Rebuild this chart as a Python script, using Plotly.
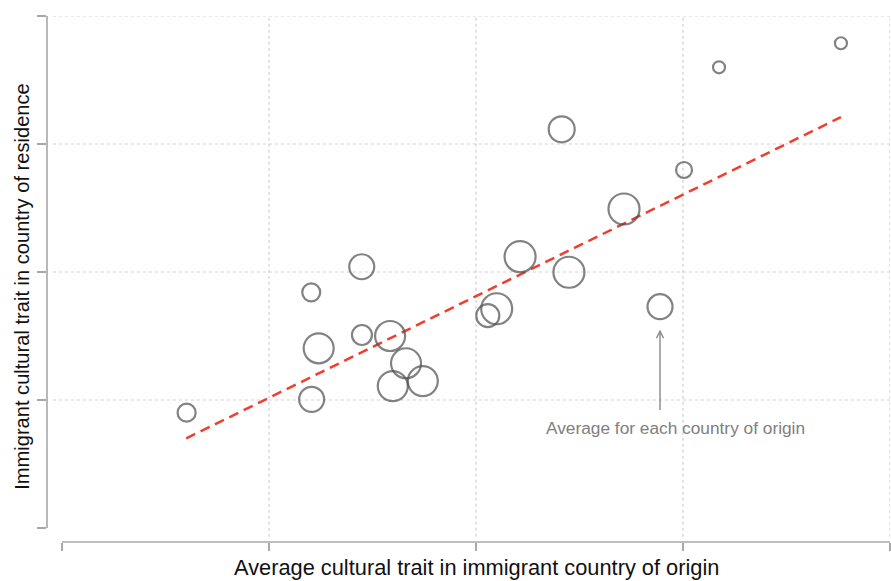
import plotly.graph_objects as go

# Country-of-origin averages (arbitrary trait units)
origin_trait = [0.602, 1.204, 1.448, 1.240, 1.206, 1.449, 1.585, 1.662, 1.598, 1.743,
                2.057, 2.100, 2.213, 2.449, 2.414, 2.715, 2.889, 3.005, 3.174, 3.763]
residence_trait = [0.901, 1.841, 2.041, 1.404, 1.005, 1.508, 1.500, 1.287, 1.109, 1.148,
                   1.659, 1.713, 2.120, 1.998, 3.115, 2.492, 1.729, 2.797, 3.599, 3.787]
# relative group size, shown as circle diameter
group_size = [18, 18, 25, 30, 25, 20, 30, 30, 30, 30,
              23, 31, 31, 31, 26, 31, 25, 16, 12, 12]

# fitted line end points
fit_x = [0.60, 3.763]
fit_y = [0.70, 3.21]

axis_ticks = [0, 1, 2, 3, 4]
grid_ticks = [1, 2, 3, 4]

AXIS_COL = "#a8a8a8"
GRID_COL = "#d0d0d0"
FONT = "Liberation Sans, Arial, Helvetica, sans-serif"

fig = go.Figure()

fig.add_trace(go.Scatter(
    x=fit_x, y=fit_y, mode="lines",
    line=dict(color="#ef3e2f", width=2.5, dash="10px,6px"),
    hoverinfo="skip", showlegend=False,
))

fig.add_trace(go.Scatter(
    x=origin_trait, y=residence_trait, mode="markers",
    marker=dict(size=group_size, sizemode="diameter", sizeref=1,
                color="rgba(0,0,0,0)",
                line=dict(color="#4e4e4e", width=2.2)),
    showlegend=False,
))

shapes = []
# dotted reference grid
for v in grid_ticks:
    shapes.append(dict(type="line", xref="x", yref="y domain", x0=v, x1=v, y0=0.01, y1=1,
                       line=dict(color=GRID_COL, width=1.2, dash="dot"), layer="below"))
    shapes.append(dict(type="line", xref="x domain", yref="y", x0=0.007, x1=1, y0=v, y1=v,
                       line=dict(color=GRID_COL, width=1.2, dash="dot"), layer="below"))
# detached axis lines spanning the tick range
shapes.append(dict(type="line", xref="x", yref="y domain", x0=axis_ticks[0], x1=axis_ticks[-1],
                   y0=0, y1=0, line=dict(color=AXIS_COL, width=1.6)))
shapes.append(dict(type="line", xref="x domain", yref="y", x0=0, x1=0,
                   y0=axis_ticks[0], y1=axis_ticks[-1], line=dict(color=AXIS_COL, width=1.6)))

annotations = [
    # arrow pointing at one country's average
    dict(x=origin_trait[16], y=1.55, ax=origin_trait[16], ay=0.91,
         xref="x", yref="y", axref="x", ayref="y", text="", showarrow=True,
         arrowhead=5, arrowsize=1, arrowwidth=1.4, arrowcolor="#8a8a8a"),
    dict(x=2.965, y=0.78, xref="x", yref="y", text="Average for each country of origin",
         showarrow=False, font=dict(family=FONT, size=17.3, color="#808080")),
    dict(x=0.509, y=-0.049, xref="paper", yref="paper", xanchor="center", yanchor="middle",
         text="Average cultural trait in immigrant country of origin", showarrow=False,
         font=dict(family=FONT, size=21.8, color="#111111")),
    dict(x=-0.0297, y=0.487, xref="paper", yref="paper", xanchor="center", yanchor="middle",
         textangle=-90, text="Immigrant cultural trait in country of residence", showarrow=False,
         font=dict(family=FONT, size=20.1, color="#111111")),
]

fig.update_layout(
    width=891, height=581,
    margin=dict(l=47, r=1, t=16, b=39),
    plot_bgcolor="white", paper_bgcolor="white",
    shapes=shapes, annotations=annotations,
    xaxis=dict(range=[-15 / 207, 4], tickvals=axis_ticks, showticklabels=False,
               ticks="outside", ticklen=8, tickwidth=1.6, tickcolor=AXIS_COL,
               showgrid=False, zeroline=False, showline=False, fixedrange=True),
    yaxis=dict(range=[-14 / 128, 4], tickvals=axis_ticks, showticklabels=False,
               ticks="outside", ticklen=9, tickwidth=1.6, tickcolor=AXIS_COL,
               showgrid=False, zeroline=False, showline=False, fixedrange=True),
)

fig.write_html("out.html", config={"displayModeBar": False})
